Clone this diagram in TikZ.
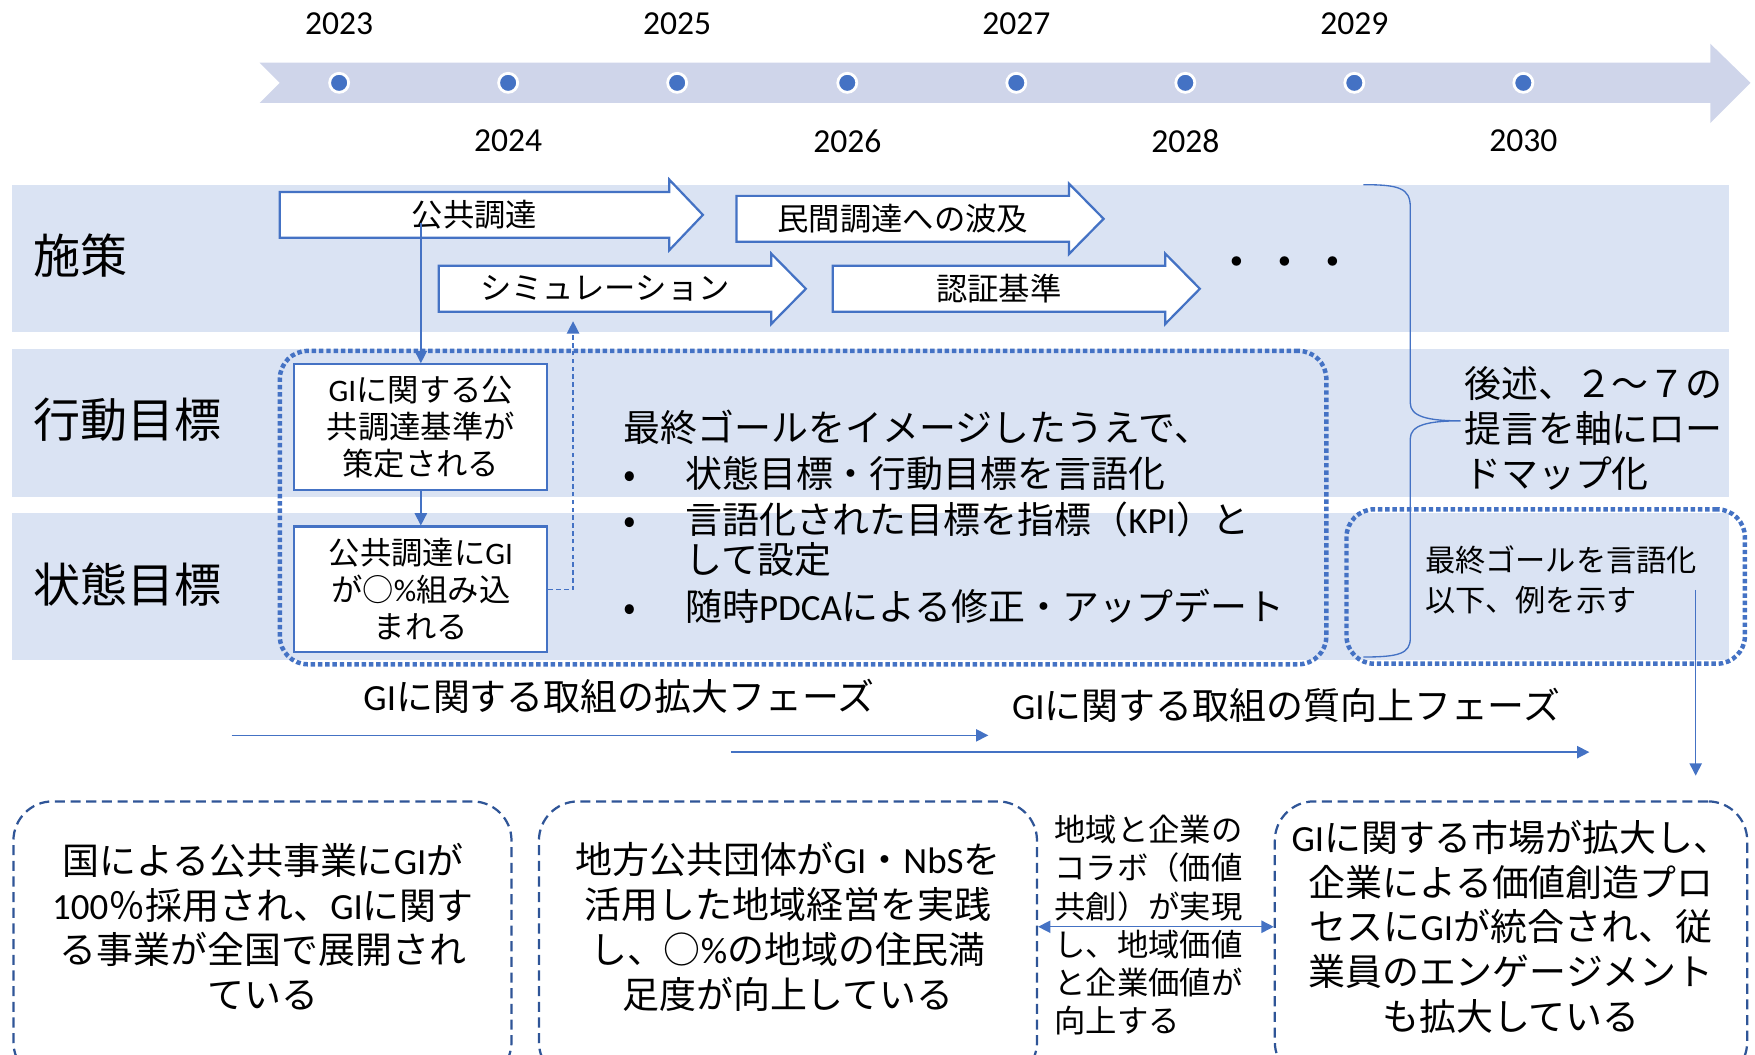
\documentclass[tikz,border=0pt]{standalone}
\usepackage{fontspec}
\setmainfont{Noto Sans CJK JP}
\newfontfamily\carl{Carlito}
\usetikzlibrary{arrows.meta}
\definecolor{bandc}{HTML}{DAE3F3}
\definecolor{tlc}{HTML}{CFD5EA}
\definecolor{acc}{HTML}{4472C4}
\definecolor{dk}{HTML}{2F5597}
\newcommand\la[1]{{\carl #1}}
\newcommand\fsz[2]{\fontsize{#1}{#2}\selectfont}
\newcommand\barrow[6]{%
  \draw[blockarr] (#2,#5-20.5) -- (#3,#5-20.5) -- (#3,#5-31.5) -- (#4,#5) -- (#3,#5+31.5) -- (#3,#5+20.5) -- (#2,#5+20.5) -- cycle;
  \node[atext] (#1) at ({(#2+#3)/2},#5) {#6};}
\begin{document}
\begin{tikzpicture}[x=1pt,y=-1pt,
  bandfill/.style={fill=bandc,draw=none},
  blockarr/.style={fill=white,draw=acc,line width=2pt,line join=miter},
  atext/.style={font=\fsz{28}{28},inner sep=0pt},
  year/.style={font=\carl\fsz{30}{30},inner sep=0pt},
  tdot/.style={circle,fill=acc,draw=white,line width=2.5pt,minimum size=17pt,inner sep=0pt},
  rowlab/.style={font=\fsz{42}{42},anchor=west,inner sep=0pt},
  sbox/.style={draw=acc,fill=white,line width=2pt,minimum width=226pt,minimum height=112pt,inner sep=0pt,align=center,font=\fsz{28}{33}},
  dotframe/.style={draw=acc,line width=4pt,dash pattern=on 4pt off 2.5pt,rounded corners=25pt,inner sep=0pt},
  goal/.style={draw=dk,line width=2pt,dash pattern=on 9pt off 5pt,rounded corners=35pt,inner sep=0pt},
  gtext/.style={align=center,font=\fsz{33}{40},inner sep=0pt},
  conn/.style={draw=acc,line width=1.3pt,-{Triangle[length=11pt,width=11pt]}},
  ]
\useasboundingbox (0,0) rectangle (1568,942);
\clip (0,0) rectangle (1568,942);

% row bands
\fill[bandfill] (11,165) rectangle (1545,297);
\fill[bandfill] (11,312) rectangle (1545,444);
\fill[bandfill] (11,458) rectangle (1545,590);

% timeline
\fill[tlc] (232,56) -- (1528,56) -- (1528,39) -- (1564,74) -- (1528,110) -- (1528,92) -- (232,92) -- (250,74) -- cycle;
\foreach \i/\x in {1/303,2/454,3/605,4/757,5/908,6/1059,7/1210,8/1361}
  \node[tdot] (d\i) at (\x,74) {};
\node[year] (y2023) at (303,21) {2023};
\node[year] (y2025) at (605,21) {2025};
\node[year] (y2027) at (908,21) {2027};
\node[year] (y2029) at (1210,21) {2029};
\node[year] (y2024) at (454,126) {2024};
\node[year] (y2026) at (757,126) {2026};
\node[year] (y2028) at (1059,126) {2028};
\node[year] (y2030) at (1361,126) {2030};

% row labels
\node[rowlab] (lab1) at (30,228) {施策};
\node[rowlab] (lab2) at (30,375) {行動目標};
\node[rowlab] (lab3) at (30,522) {状態目標};

% block arrows
\barrow{kokyo}{250}{598}{628}{192}{公共調達}
\barrow{minkan}{658}{955}{986}{195.5}{民間調達への波及}
\barrow{sim}{392}{689}{720}{258}{シミュレーション}
\barrow{ninsho}{744}{1041}{1072}{258}{認証基準}
\node[font=\fsz{40}{40},inner sep=0pt] (etc) at (1148,239) {・\hspace{3pt}・\hspace{3pt}・};

% frames
\node[dotframe,minimum width=935pt,minimum height=280pt] (frame) at (717.5,453.5) {};
\node[dotframe,minimum width=356pt,minimum height=138pt] (rframe) at (1381,524) {};

% small boxes
\node[sbox] (act) at (376,381.5) {\la{GI}に関する公\\共調達基準が\\策定される};
\node[sbox] (st) at (376,526.5) {公共調達に\la{GI}\\が○\la{\%}組み込\\まれる};

\coordinate (s1) at (376,199);
\draw[conn] (s1) -- (act.north);
\draw[conn] (act.south) -- (st.north);
\coordinate (simend) at (512,287);
\draw[conn,dash pattern=on 4pt off 3pt] (st.east) -| (simend);

% main text
\node[anchor=west,align=left,font=\fsz{33}{36},inner sep=0pt] (goaltext) at (557,462)
  {最終ゴールをイメージしたうえで、\\[5pt]
   \makebox[55pt][l]{•}状態目標・行動目標を言語化\\[5pt]
   \makebox[55pt][l]{•}言語化された目標を指標（\la{KPI}）と\\
   \hspace*{55pt}して設定\\[6pt]
   \makebox[55pt][l]{•}随時\la{PDCA}による修正・アップデート};

% brace
\draw[acc,line width=1.2pt] (1218,165) .. controls (1250,165) and (1260,168) .. (1260,185) -- (1260,360)
  .. controls (1260,372) and (1275,376) .. (1305,376)
  .. controls (1275,376) and (1260,380) .. (1260,392) -- (1260,570)
  .. controls (1260,584) and (1250,587) .. (1218,587);
\node[anchor=west,align=left,font=\fsz{33}{40},inner sep=0pt] (roadmap) at (1308,383)
  {後述、２～７の\\提言を軸にロー\\ドマップ化};
\node[anchor=west,align=left,font=\fsz{27}{36},inner sep=0pt] (rtext) at (1273,518)
  {最終ゴールを言語化\\以下、例を示す};

% phases
\node[font=\fsz{33}{33},inner sep=0pt] (ph1) at (553,622) {\la{GI}に関する取組の拡大フェーズ};
\node[font=\fsz{33}{33},inner sep=0pt] (ph2) at (1149,630) {\la{GI}に関する取組の質向上フェーズ};
\coordinate (p1s) at (207,657); \coordinate (p1e) at (883,657);
\coordinate (p2s) at (653,672); \coordinate (p2e) at (1420,672);
\draw[conn] (p1s) -- (p1e);
\draw[conn] (p2s) -- (p2e);

% down arrow
\coordinate (dstart) at (1515,527); \coordinate (dend) at (1515,693);
\draw[conn] (dstart) -- (dend);

% goal boxes
\node[goal,minimum width=445pt,minimum height=250pt] (g1) at (234.5,841) {};
\node[goal,minimum width=445pt,minimum height=250pt] (g2) at (704,841) {};
\node[goal,minimum width=422pt,minimum height=250pt] (g3) at (1350,841) {};
\node[gtext] (t1) at (235,828) {国による公共事業に\la{GI}が\\\la{100}％採用され、\la{GI}に関す\\る事業が全国で展開され\\ている};
\node[gtext] (t2) at (704,828) {地方公共団体が\la{GI}・\la{NbS}を\\活用した地域経営を実践\\し、○\la{\%}の地域の住民満\\足度が向上している};
\node[gtext] (t3) at (1350,828) {\la{GI}に関する市場が拡大し、\\企業による価値創造プロ\\セスに\la{GI}が統合され、従\\業員のエンゲージメント\\も拡大している};
\node[anchor=west,align=left,font=\fsz{28}{34},inner sep=0pt] (collab) at (942,826.5)
  {地域と企業の\\コラボ（価値\\共創）が実現\\し、地域価値\\と企業価値が\\向上する};
\draw[conn,{Triangle[length=11pt,width=11pt]}-{Triangle[length=11pt,width=11pt]}] (g2.east |- t2.center) -- (g3.west |- t2.center);
\end{tikzpicture}
\end{document}
